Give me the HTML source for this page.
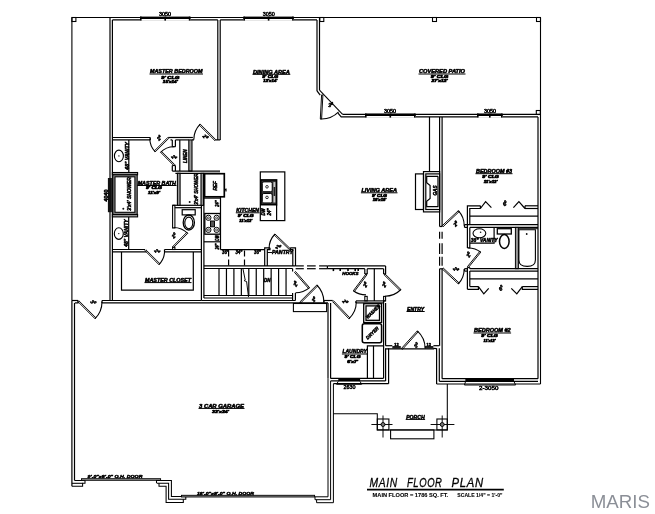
<!DOCTYPE html>
<html><head><meta charset="utf-8"><title>Main Floor Plan</title>
<style>
html,body{margin:0;padding:0;background:#fff;}
svg{display:block;font-family:"Liberation Sans","DejaVu Sans",sans-serif;}
</style></head><body>
<svg width="655" height="514" viewBox="0 0 655 514">
<rect x="0" y="0" width="655" height="514" fill="#fff" stroke="none"/>
<g fill="none" stroke="#000" stroke-width="1.2" transform="translate(0,0.5)">
<line x1="71.9" y1="17" x2="540.5" y2="17" stroke-width="1.1"/>
<line x1="71.9" y1="17" x2="71.9" y2="300" stroke-width="1.1"/>
<line x1="540.5" y1="17" x2="540.5" y2="383.5" stroke-width="1.1"/>
<rect x="71.9" y="17.0" width="4.0" height="4.0" stroke-width="1.08"/>
<rect x="319.8" y="17.0" width="4.0" height="4.0" stroke-width="1.08"/>
<rect x="432.5" y="17.0" width="4.0" height="4.0" stroke-width="1.08"/>
<rect x="536.5" y="17.0" width="4.0" height="4.0" stroke-width="1.08"/>
<rect x="536.3" y="110.0" width="4.0" height="4.0" stroke-width="1.08"/>
<line x1="110" y1="17" x2="110" y2="300"/>
<line x1="112.4" y1="19.4" x2="112.4" y2="300"/>
<line x1="112.4" y1="19.4" x2="217.8" y2="19.4"/>
<line x1="220.2" y1="19.4" x2="317" y2="19.4"/>
<line x1="217.8" y1="19.4" x2="217.8" y2="139.4"/>
<line x1="220.2" y1="19.4" x2="220.2" y2="139.4"/>
<line x1="215.4" y1="139.4" x2="220.2" y2="139.4"/>
<line x1="317" y1="19.4" x2="317" y2="90.4"/>
<line x1="319.5" y1="17" x2="319.5" y2="89.6"/>
<path d="M317.0 90.4 L320.2 94.6"/>
<path d="M319.5 89.6 L342.6 113.8" stroke-width="1.08"/>
<path d="M338.0 112.6 L341.2 116.4 L538.0 116.4"/>
<path d="M342.6 113.8 L540.5 113.8"/>
<path d="M321.6 94.4 L320.3 118.4 L321.6 118.4 L322.9 94.5 Z" stroke-width="0.96"/>
<path d="M320.3 118.4 A24.0 24.0 0 0 0 338.6 111.4" stroke-width="1.1"/>
<line x1="538" y1="116.4" x2="538" y2="378.2"/>
<line x1="439.6" y1="116.4" x2="439.6" y2="226"/>
<line x1="442.1" y1="116.4" x2="442.1" y2="226"/>
<line x1="439.6" y1="226" x2="442.1" y2="226"/>
<line x1="429.5" y1="116.4" x2="429.5" y2="171"/>
<rect x="140.0" y="18.4" width="50.4" height="1.9" stroke-width="0" fill="#fff"/>
<rect x="140.0" y="16.1" width="50.4" height="2.4" stroke-width="0" fill="#000"/>
<rect x="140.0" y="16.1" width="1.6" height="4.0" stroke-width="0" fill="#000"/>
<rect x="164.4" y="16.1" width="1.6" height="4.0" stroke-width="0" fill="#000"/>
<rect x="188.8" y="16.1" width="1.6" height="4.0" stroke-width="0" fill="#000"/>
<rect x="243.4" y="18.4" width="50.3" height="1.9" stroke-width="0" fill="#fff"/>
<rect x="243.4" y="16.1" width="50.3" height="2.4" stroke-width="0" fill="#000"/>
<rect x="243.4" y="16.1" width="1.6" height="4.0" stroke-width="0" fill="#000"/>
<rect x="267.8" y="16.1" width="1.6" height="4.0" stroke-width="0" fill="#000"/>
<rect x="292.1" y="16.1" width="1.6" height="4.0" stroke-width="0" fill="#000"/>
<rect x="365.0" y="115.4" width="50.6" height="1.9" stroke-width="0" fill="#fff"/>
<rect x="365.0" y="113.1" width="50.6" height="2.4" stroke-width="0" fill="#000"/>
<rect x="365.0" y="113.1" width="1.6" height="4.0" stroke-width="0" fill="#000"/>
<rect x="389.5" y="113.1" width="1.6" height="4.0" stroke-width="0" fill="#000"/>
<rect x="414.0" y="113.1" width="1.6" height="4.0" stroke-width="0" fill="#000"/>
<rect x="477.0" y="115.4" width="25.6" height="1.9" stroke-width="0" fill="#fff"/>
<rect x="477.0" y="113.1" width="25.6" height="2.4" stroke-width="0" fill="#000"/>
<rect x="477.0" y="113.1" width="1.6" height="4.0" stroke-width="0" fill="#000"/>
<rect x="489.0" y="113.1" width="1.6" height="4.0" stroke-width="0" fill="#000"/>
<rect x="501.0" y="113.1" width="1.6" height="4.0" stroke-width="0" fill="#000"/>
<line x1="112.4" y1="137" x2="150.3" y2="137"/>
<line x1="112.4" y1="139.4" x2="150.3" y2="139.4"/>
<line x1="150.3" y1="137" x2="150.3" y2="139.4"/>
<path d="M168.6 138.0 L155.3 151.3 L154.4 150.4 L167.7 137.1 Z" stroke-width="0.96"/>
<path d="M155.3 151.3 A18.8 18.8 0 0 1 149.8 138.0" stroke-width="1.1"/>
<path d="M168.2 137.0 L192.9 137.0"/>
<path d="M170.5 139.4 L172.3 139.4"/>
<path d="M175.4 139.4 L188.8 139.4"/>
<line x1="192" y1="139.4" x2="194" y2="139.4"/>
<path d="M215.8 139.2 L200.2 123.6 L199.3 124.6 L214.9 140.1 Z" stroke-width="0.96"/>
<path d="M200.2 123.6 A22.0 22.0 0 0 0 193.8 139.2" stroke-width="1.1"/>
<line x1="172.3" y1="139.4" x2="172.3" y2="146.2"/>
<line x1="175.4" y1="139.4" x2="175.4" y2="146.2"/>
<line x1="172.3" y1="146.2" x2="175.4" y2="146.2"/>
<path d="M173.8 165.0 L160.6 151.8 L161.5 150.9 L174.7 164.1 Z" stroke-width="0.96"/>
<path d="M160.6 151.8 A18.7 18.7 0 0 1 173.8 146.3" stroke-width="1.1"/>
<line x1="172.3" y1="165" x2="172.3" y2="170.6"/>
<line x1="175.4" y1="165" x2="175.4" y2="170.6"/>
<line x1="172.3" y1="165" x2="175.4" y2="165"/>
<line x1="179.8" y1="139.4" x2="179.8" y2="170.6"/>
<rect x="188.8" y="139.4" width="3.2" height="31.2" stroke-width="1.08" fill="#999"/>
<line x1="172.3" y1="170.6" x2="220" y2="170.6"/>
<line x1="175.4" y1="172.8" x2="220" y2="172.8"/>
<line x1="128.8" y1="139.4" x2="128.8" y2="172"/>
<ellipse cx="118.9" cy="155.4" rx="4.5" ry="5.8" stroke-width="1.1"/>
<circle cx="118.9" cy="155.4" r="0.7" fill="#111" stroke="none"/>
<rect x="112.4" y="172.0" width="25.2" height="2.3" stroke-width="1.08" fill="#999"/>
<rect x="112.8" y="174.3" width="24.4" height="39.7" stroke-width="1.08" fill="#8c8c8c"/>
<rect x="115.0" y="176.3" width="19.9" height="35.5" stroke-width="1.08" fill="#fff"/>
<rect x="112.4" y="214.0" width="25.2" height="2.4" stroke-width="1.08" fill="#999"/>
<circle cx="123.3" cy="208.3" r="1.0" fill="#111" stroke="none"/>
<rect x="107.9" y="177.5" width="4.0" height="34.2" stroke-width="0" fill="#111"/>
<line x1="128.7" y1="216.4" x2="128.7" y2="249"/>
<ellipse cx="118.8" cy="233.1" rx="4.5" ry="5.8" stroke-width="1.1"/>
<circle cx="118.8" cy="233.1" r="0.7" fill="#111" stroke="none"/>
<line x1="112.4" y1="249" x2="145" y2="249"/>
<line x1="112.4" y1="251.4" x2="146.5" y2="251.4"/>
<path d="M145.0 250.2 L158.9 264.1 L159.8 263.1 L145.9 249.3 Z" stroke-width="0.96"/>
<path d="M158.9 264.1 A19.6 19.6 0 0 0 164.6 250.2" stroke-width="1.1"/>
<line x1="164.5" y1="249" x2="201.4" y2="249"/>
<line x1="164.5" y1="251.4" x2="201.4" y2="251.4"/>
<line x1="164.5" y1="249" x2="164.5" y2="251.4"/>
<rect x="172.6" y="204.8" width="2.3" height="22.7" stroke-width="1.08"/>
<line x1="172.6" y1="204.8" x2="203.6" y2="204.8"/>
<line x1="174.9" y1="207.2" x2="201.4" y2="207.2"/>
<path d="M173.6 247.0 L187.7 232.9 L186.8 231.9 L172.7 246.1 Z" stroke-width="0.96"/>
<path d="M187.7 232.9 A20.0 20.0 0 0 0 173.6 227.0" stroke-width="1.1"/>
<rect x="172.6" y="246.7" width="2.3" height="2.3" stroke-width="1.08"/>
<rect x="182.2" y="209.2" width="13.0" height="5.2" stroke-width="1.2"/>
<ellipse cx="188.8" cy="222" rx="5.6" ry="7.5" stroke-width="1.3"/>
<ellipse cx="188.8" cy="222.4" rx="4.0" ry="5.8" stroke-width="1.1"/>
<rect x="177.4" y="172.8" width="2.7" height="32.0" stroke-width="1.08" fill="#999"/>
<rect x="201.0" y="172.8" width="2.6" height="32.0" stroke-width="1.08" fill="#999"/>
<circle cx="189.7" cy="201.4" r="1.0" fill="#111" stroke="none"/>
<line x1="201.4" y1="204.8" x2="201.4" y2="300"/>
<line x1="203.9" y1="172.8" x2="203.9" y2="297.5"/>
<line x1="137.2" y1="185.0" x2="176.5" y2="185.0" stroke-width="1.0"/>
<line x1="149.5" y1="73.5" x2="203.0" y2="73.5" stroke-width="1.0"/>
<line x1="252.5" y1="73.8" x2="290.3" y2="73.8" stroke-width="1.0"/>
<line x1="418.5" y1="73.5" x2="465.5" y2="73.5" stroke-width="1.0"/>
<path d="M121.5 251.4 L121.5 289.6 L193.3 289.6 L193.3 251.4"/>
<line x1="144.5" y1="282.1" x2="191.5" y2="282.1" stroke-width="1.0"/>
<line x1="71.9" y1="300" x2="78" y2="300"/>
<line x1="75" y1="302.4" x2="78.6" y2="302.4"/>
<line x1="78" y1="300" x2="78" y2="302.4"/>
<path d="M78.0 301.2 L95.0 318.2 L95.9 317.3 L78.9 300.3 Z" stroke-width="0.96"/>
<path d="M95.0 318.2 A24.0 24.0 0 0 0 102.0 301.2" stroke-width="1.1"/>
<line x1="102" y1="300" x2="201.4" y2="300"/>
<line x1="102" y1="302.4" x2="328" y2="302.4"/>
<line x1="102" y1="300" x2="102" y2="302.4"/>
<line x1="71.9" y1="300" x2="71.9" y2="485.7"/>
<line x1="74.5" y1="302.4" x2="74.5" y2="479.9"/>
<path d="M74.5 479.9 L85.0 479.9 L85.0 482.8 L82.6 482.8 L82.6 485.7 L71.9 485.7" stroke-width="1.05"/>
<line x1="71.9" y1="482.8" x2="82.6" y2="482.8" stroke-width="1.05"/>
<rect x="81.5" y="478.2" width="79.1" height="1.6" stroke-width="0.9" fill="#aaa"/>
<path d="M156.5 482.7 L156.5 480.0 L171.4 480.0 L171.4 495.9 L182.0 495.9" stroke-width="1.05"/>
<path d="M157.0 482.7 L168.6 482.7 L168.6 498.8 L185.8 498.8 L185.8 495.9" stroke-width="1.05"/>
<path d="M159.0 482.7 L159.0 485.8 L166.1 485.8 L166.1 501.9 L183.3 501.9 L183.3 498.8" stroke-width="1.05"/>
<rect x="181.5" y="494.8" width="133.1" height="1.7" stroke-width="0.9" fill="#999"/>
<line x1="198.5" y1="407.9" x2="244.5" y2="407.9" stroke-width="1.0"/>
<line x1="328" y1="302.4" x2="328" y2="378"/>
<line x1="330.6" y1="302.4" x2="330.6" y2="378"/>
<line x1="328" y1="378" x2="328" y2="496.3" stroke-width="1.0"/>
<line x1="330.6" y1="380.4" x2="330.6" y2="499.2" stroke-width="1.0"/>
<line x1="333.4" y1="383.2" x2="333.4" y2="502.2" stroke-width="1.0"/>
<path d="M328.0 496.3 L315.0 496.3" stroke-width="1.0"/>
<path d="M330.6 499.2 L315.0 499.2 L315.0 496.3" stroke-width="1.0"/>
<path d="M333.4 502.2 L316.6 502.2 L316.6 499.2" stroke-width="1.0"/>
<rect x="204.6" y="173.2" width="19.7" height="23.1" stroke-width="1.68"/>
<line x1="224.3" y1="189.2" x2="226" y2="189.2"/>
<line x1="226" y1="188" x2="226" y2="191"/>
<line x1="220.5" y1="196.3" x2="220.5" y2="249.2"/>
<line x1="220.5" y1="249.2" x2="264.8" y2="249.2"/>
<line x1="203.9" y1="197.6" x2="220.5" y2="197.6"/>
<rect x="204.8" y="213.0" width="15.5" height="20.7" stroke-width="1.32"/>
<circle cx="208.4" cy="217.3" r="2.6" stroke-width="1"/>
<circle cx="208.4" cy="217.3" r="1.0" stroke-width="0.7"/>
<circle cx="216.6" cy="217.3" r="2.6" stroke-width="1"/>
<circle cx="216.6" cy="217.3" r="1.0" stroke-width="0.7"/>
<circle cx="208.4" cy="229.4" r="2.6" stroke-width="1"/>
<circle cx="208.4" cy="229.4" r="1.0" stroke-width="0.7"/>
<circle cx="216.6" cy="229.4" r="2.6" stroke-width="1"/>
<circle cx="216.6" cy="229.4" r="1.0" stroke-width="0.7"/>
<rect x="210.5" y="220.5" width="4.0" height="5.8" stroke-width="0.96" fill="#555"/>
<line x1="203.9" y1="241.3" x2="220.5" y2="241.3"/>
<line x1="228.6" y1="250" x2="228.6" y2="265.2" stroke-dasharray="6 3"/>
<line x1="244.5" y1="250" x2="244.5" y2="265.2" stroke-dasharray="6 3"/>
<line x1="235.8" y1="212.3" x2="259.5" y2="212.3" stroke-width="1.0"/>
<rect x="260.3" y="171.4" width="24.5" height="48.7" stroke-width="1.2"/>
<rect x="260.8" y="179.4" width="15.8" height="24.8" stroke-width="1.56" fill="#333"/>
<rect x="273.4" y="181.6" width="2.0" height="20.4" stroke-width="0" fill="#ccc"/>
<rect x="273.6" y="186.5" width="1.6" height="9.0" stroke-width="0" fill="#222"/>
<rect x="262.3" y="181.4" width="9.9" height="9.8" stroke-width="0.96" fill="#fff" rx="1.5"/>
<rect x="262.3" y="193.0" width="9.9" height="9.4" stroke-width="0.96" fill="#fff" rx="1.5"/>
<circle cx="267" cy="186.3" r="1.3" stroke-width="0.8"/><circle cx="267" cy="196.9" r="1.3" stroke-width="0.8"/>
<line x1="276.6" y1="204.2" x2="276.6" y2="220.1"/>
<path d="M270.0 247.3 L264.7 247.3 L264.7 265.4"/>
<path d="M270.0 247.3 L270.0 249.2 L267.3 249.2 L267.3 265.4"/>
<path d="M290.3 247.3 L295.5 247.3 L295.5 265.4"/>
<path d="M290.3 247.3 L290.3 249.2 L292.8 249.2 L292.8 265.4"/>
<path d="M290.5 248.4 L275.0 233.5 L274.1 234.4 L289.6 249.3 Z" stroke-width="0.96"/>
<path d="M275.0 233.5 A21.5 21.5 0 0 0 269.0 248.4" stroke-width="1.1"/>
<line x1="267.3" y1="252" x2="272" y2="252" stroke-width="0.96"/>
<line x1="203.9" y1="265.4" x2="295.5" y2="265.4"/>
<line x1="203.9" y1="268" x2="292.6" y2="268"/>
<line x1="219.0" y1="268" x2="219.0" y2="295"/>
<line x1="226.45" y1="268" x2="226.45" y2="295"/>
<line x1="233.9" y1="268" x2="233.9" y2="295"/>
<line x1="241.35" y1="268" x2="241.35" y2="295"/>
<line x1="248.8" y1="268" x2="248.8" y2="295"/>
<line x1="256.25" y1="268" x2="256.25" y2="295"/>
<line x1="263.7" y1="268" x2="263.7" y2="295"/>
<line x1="271.15" y1="268" x2="271.15" y2="295"/>
<line x1="278.6" y1="268" x2="278.6" y2="295"/>
<line x1="286.05" y1="268" x2="286.05" y2="295"/>
<line x1="292.6" y1="268" x2="292.6" y2="271"/>
<line x1="292.6" y1="292.5" x2="292.6" y2="300"/>
<line x1="295.4" y1="292.5" x2="295.4" y2="300"/>
<line x1="203.9" y1="295" x2="292.6" y2="295"/>
<line x1="203.9" y1="297.5" x2="292.6" y2="297.5"/>
<line x1="201.4" y1="300" x2="295.4" y2="300"/>
<path d="M242.9 268.0 L245.2 279.5 L244.2 280.2 L246.6 281.0 L248.5 296.5" stroke-width="0.96"/>
<path d="M295.5 271.0 L309.5 287.1 L308.5 287.9 L294.5 271.9 Z" stroke-width="0.96"/>
<path d="M309.5 287.1 A21.3 21.3 0 0 1 295.5 292.3" stroke-width="1.1"/>
<line x1="295.6" y1="265.4" x2="303.8" y2="265.4"/>
<line x1="295.6" y1="268.2" x2="303.8" y2="268.2"/>
<line x1="307" y1="265.4" x2="315.7" y2="265.4"/>
<line x1="307" y1="268.2" x2="315.7" y2="268.2"/>
<line x1="319.1" y1="265.4" x2="327.4" y2="265.4"/>
<line x1="319.1" y1="268.2" x2="327.4" y2="268.2"/>
<line x1="327.4" y1="265.4" x2="385.6" y2="265.4"/>
<line x1="327.4" y1="268.2" x2="364.8" y2="268.2"/>
<line x1="367.2" y1="268.2" x2="383.6" y2="268.2"/>
<line x1="327.4" y1="265.4" x2="327.4" y2="268.2"/>
<line x1="385.6" y1="265.4" x2="385.6" y2="273.4"/>
<line x1="383.6" y1="268.2" x2="383.6" y2="273.4"/>
<line x1="383.6" y1="273.4" x2="385.6" y2="273.4"/>
<line x1="364.8" y1="268.2" x2="364.8" y2="273.4"/>
<line x1="367.2" y1="268.2" x2="367.2" y2="273.4"/>
<line x1="364.8" y1="273.4" x2="367.2" y2="273.4"/>
<line x1="374.3" y1="268.2" x2="374.3" y2="300.4"/>
<line x1="333.4" y1="268.2" x2="333.4" y2="270.6" stroke-width="1.56"/>
<line x1="340.2" y1="268.2" x2="340.2" y2="270.6" stroke-width="1.56"/>
<line x1="348" y1="268.2" x2="348" y2="270.6" stroke-width="1.56"/>
<line x1="355.2" y1="268.2" x2="355.2" y2="270.6" stroke-width="1.56"/>
<line x1="358.2" y1="268.2" x2="358.2" y2="270.6" stroke-width="1.56"/>
<path d="M366.0 273.4 L353.4 290.2 L354.4 291.0 L367.0 274.2 Z" stroke-width="0.96"/>
<path d="M353.4 290.2 A21.0 21.0 0 0 0 366.0 294.4" stroke-width="1.1"/>
<path d="M385.0 273.4 L400.9 289.0 L400.0 290.0 L384.1 274.3 Z" stroke-width="0.96"/>
<path d="M400.9 289.0 A22.3 22.3 0 0 1 385.0 295.7" stroke-width="1.1"/>
<rect x="364.8" y="295.9" width="2.4" height="4.5" stroke-width="1.08"/>
<rect x="383.6" y="295.9" width="2.0" height="4.5" stroke-width="1.08"/>
<path d="M299.7 301.6 L316.8 284.5 L317.7 285.4 L300.6 302.5 Z" stroke-width="0.96"/>
<path d="M316.8 284.5 A24.2 24.2 0 0 1 323.9 301.6" stroke-width="1.1"/>
<line x1="323.9" y1="300" x2="332.7" y2="300"/>
<line x1="323.9" y1="300" x2="323.9" y2="302.4"/>
<rect x="293.4" y="303.0" width="33.2" height="8.1" stroke-width="1.08"/>
<path d="M332.7 301.2 L348.9 318.3 L349.9 317.4 L333.6 300.3 Z" stroke-width="0.96"/>
<path d="M348.9 318.3 A23.6 23.6 0 0 0 356.3 301.2" stroke-width="1.1"/>
<line x1="355.9" y1="300.4" x2="385.6" y2="300.4"/>
<line x1="355.9" y1="302.4" x2="383.6" y2="302.4"/>
<line x1="355.9" y1="300.4" x2="355.9" y2="302.4"/>
<rect x="363.7" y="303.2" width="17.9" height="18.8" stroke-width="1.3"/>
<rect x="366.0" y="305.4" width="13.5" height="14.4" stroke-width="1.3"/>
<rect x="362.3" y="323.2" width="19.3" height="19.1" stroke-width="1.56" rx="2"/>
<path d="M367.4 377.8 L367.4 345.3 L383.6 345.3"/>
<line x1="373.5" y1="345.3" x2="373.5" y2="377.8"/>
<line x1="341.9" y1="353.5" x2="367.5" y2="353.5" stroke-width="1.0"/>
<line x1="383.6" y1="300.4" x2="383.6" y2="377.8"/>
<line x1="385.6" y1="302.4" x2="385.6" y2="345.2"/>
<line x1="385.6" y1="345.2" x2="392.3" y2="345.2"/>
<line x1="388.6" y1="347.8" x2="388.6" y2="383.2"/>
<line x1="385.6" y1="347.8" x2="385.6" y2="380.4"/>
<line x1="330.6" y1="377.8" x2="383.6" y2="377.8"/>
<line x1="330.6" y1="380.4" x2="385.6" y2="380.4"/>
<line x1="333.4" y1="383.2" x2="388.6" y2="383.2"/>
<rect x="338.3" y="378.4" width="21.8" height="2.2" stroke-width="0" fill="#000"/>
<path d="M338.3 380.8 L336.5 383.8 L361.6 383.8 L360.0 380.8" stroke-width="0.96"/>
<line x1="385.6" y1="348.4" x2="434" y2="348.4" stroke-width="1.32"/>
<rect x="392.3" y="345.5" width="8.5" height="2.9" stroke-width="0" fill="#222"/>
<rect x="424.9" y="345.5" width="8.5" height="2.9" stroke-width="0" fill="#222"/>
<path d="M401.4 348.0 L417.3 330.4 L418.2 331.3 L402.4 348.9 Z" stroke-width="0.96"/>
<path d="M417.3 330.4 A23.7 23.7 0 0 1 425.1 348.0" stroke-width="1.1"/>
<line x1="433.4" y1="345.2" x2="439.4" y2="345.2"/>
<line x1="433.4" y1="347.8" x2="436.6" y2="348.2"/>
<line x1="406.5" y1="311.0" x2="424.7" y2="311.0" stroke-width="1.0"/>
<rect x="423.5" y="171.1" width="16.1" height="40.3" stroke-width="1.2"/>
<rect x="425.8" y="173.4" width="13.8" height="35.6" stroke-width="1.2"/>
<rect x="415.5" y="173.4" width="8.0" height="35.6" stroke-width="1.2"/>
<path d="M438.0 175.8 L426.7 175.8 L426.7 182.2 L430.1 185.1 L430.1 198.0 L426.7 200.7 L426.7 206.1 L438.0 206.1 L438.0 175.8"/>
<line x1="360.9" y1="192.3" x2="397.5" y2="192.3" stroke-width="1.0"/>
<line x1="439.6" y1="231.3" x2="439.6" y2="238.3"/>
<line x1="442.1" y1="231.3" x2="442.1" y2="238.3"/>
<line x1="439.6" y1="242.7" x2="439.6" y2="253.6"/>
<line x1="442.1" y1="242.7" x2="442.1" y2="253.6"/>
<line x1="439.6" y1="256.3" x2="439.6" y2="265.3"/>
<line x1="442.1" y1="256.3" x2="442.1" y2="265.3"/>
<line x1="439.6" y1="268.3" x2="439.6" y2="345.2"/>
<line x1="442.1" y1="268.3" x2="442.1" y2="378.2"/>
<line x1="439.6" y1="268.3" x2="442.1" y2="268.3"/>
<line x1="436.6" y1="347.8" x2="436.6" y2="383.5"/>
<line x1="439.3" y1="347.8" x2="439.3" y2="380.8"/>
<line x1="442.1" y1="378.2" x2="538" y2="378.2"/>
<line x1="439.3" y1="380.8" x2="538" y2="380.8"/>
<line x1="436.6" y1="383.5" x2="540.5" y2="383.5"/>
<path d="M442.2 225.2 L458.3 210.2 L459.2 211.1 L443.1 226.2 Z" stroke-width="0.96"/>
<path d="M458.3 210.2 A22.0 22.0 0 0 1 464.2 225.2" stroke-width="1.1"/>
<path d="M442.2 268.4 L458.3 283.4 L459.2 282.5 L443.1 267.4 Z" stroke-width="0.96"/>
<path d="M458.3 283.4 A22.0 22.0 0 0 0 464.2 268.4" stroke-width="1.1"/>
<path d="M464.5 224.2 L538.0 224.2"/>
<path d="M464.5 226.9 L467.4 226.9"/>
<line x1="469.8" y1="226.9" x2="538" y2="226.9"/>
<line x1="464.5" y1="224.2" x2="464.5" y2="226.9"/>
<path d="M480.4 205.3 L467.4 205.3 L467.4 247.4"/>
<path d="M480.4 208.0 L469.8 208.0 L469.8 224.2"/>
<line x1="469.8" y1="226.9" x2="469.8" y2="247.4"/>
<line x1="467.4" y1="247.4" x2="469.8" y2="247.4"/>
<path d="M480.4 208.0 L485.6 201.2 L491.4 207.2"/>
<path d="M513.4 207.2 L518.9 201.2 L525.0 208.0"/>
<path d="M525.0 205.3 L538.0 205.3"/>
<path d="M525.0 208.0 L538.0 208.0"/>
<line x1="525" y1="205.3" x2="525" y2="208"/>
<line x1="480.4" y1="205.3" x2="480.4" y2="208"/>
<line x1="469.8" y1="215.6" x2="538" y2="215.6"/>
<path d="M469.8 242.6 L494.1 242.6 L494.1 226.9"/>
<ellipse cx="479.4" cy="232.8" rx="6.4" ry="4.5" stroke-width="1.1"/>
<circle cx="480.6" cy="231.8" r="0.8" fill="#111" stroke="none"/>
<rect x="497.3" y="228.2" width="14.0" height="5.3" stroke-width="1.3"/>
<ellipse cx="504.3" cy="241" rx="4.8" ry="7" stroke-width="1.5"/>
<rect x="515.4" y="226.9" width="3.0" height="41.3" stroke-width="0.96" fill="#999"/>
<path d="M518.9 229.3 H535.4 V259.5 Q535.4 265.9 527.2 265.9 Q518.9 265.9 518.9 259.5 Z" stroke-width="1.1"/>
<line x1="518.4" y1="228.2" x2="538" y2="228.2" stroke-width="0.96"/>
<circle cx="526.7" cy="233.5" r="0.9" fill="#111" stroke="none"/>
<path d="M468.4 267.0 L480.7 251.8 L479.7 251.0 L467.4 266.2 Z" stroke-width="0.96"/>
<path d="M480.7 251.8 A19.5 19.5 0 0 0 468.4 247.5" stroke-width="1.1"/>
<line x1="467.4" y1="267" x2="467.4" y2="288.8"/>
<line x1="469.8" y1="267" x2="469.8" y2="268.2"/>
<line x1="467.4" y1="267" x2="469.8" y2="267"/>
<line x1="464.5" y1="268.2" x2="467.4" y2="268.2"/>
<line x1="469.8" y1="268.2" x2="538" y2="268.2"/>
<line x1="464.5" y1="270.6" x2="467.4" y2="270.6"/>
<line x1="469.8" y1="270.6" x2="538" y2="270.6"/>
<line x1="464.5" y1="268.2" x2="464.5" y2="270.6"/>
<line x1="469.8" y1="270.6" x2="469.8" y2="286.1"/>
<line x1="469.8" y1="278.3" x2="538" y2="278.3"/>
<path d="M469.8 286.1 L478.4 286.1"/>
<path d="M467.4 288.8 L478.4 288.8 L478.4 286.1"/>
<path d="M478.4 286.1 L483.8 293.4 L488.7 287.9"/>
<path d="M511.3 287.9 L516.8 293.4 L522.3 286.1"/>
<path d="M522.3 286.1 L538.0 286.1"/>
<path d="M522.3 286.1 L522.3 288.8 L538.0 288.8"/>
<line x1="475.5" y1="173.2" x2="512.5" y2="173.2" stroke-width="1.0"/>
<line x1="473.5" y1="332.5" x2="511.1" y2="332.5" stroke-width="1.0"/>
<rect x="465.6" y="378.5" width="48.4" height="2.1" stroke-width="0" fill="#000"/>
<rect x="465.6" y="378.5" width="1.6" height="3.0" stroke-width="0" fill="#000"/>
<rect x="489.0" y="378.5" width="1.6" height="3.0" stroke-width="0" fill="#000"/>
<rect x="512.4" y="378.5" width="1.6" height="3.0" stroke-width="0" fill="#000"/>
<path d="M465.6 381.0 L464.4 384.5 L515.6 384.5 L514.0 381.0" stroke-width="0.96"/>
<path d="M333.4 413.2 L377.3 413.2 L377.3 429.4 L447.3 429.4 L447.3 383.5" stroke-width="1.05"/>
<rect x="377.3" y="418.5" width="11.6" height="10.9" stroke-width="1.08"/>
<rect x="436.9" y="418.5" width="10.4" height="10.9" stroke-width="1.08"/>
<line x1="383" y1="415" x2="383" y2="437" stroke-width="0.96"/>
<line x1="371.4" y1="424" x2="392.5" y2="424" stroke-width="0.96"/>
<circle cx="383" cy="424" r="2" stroke-width="0.9" fill="#777"/>
<line x1="442.2" y1="415" x2="442.2" y2="437" stroke-width="0.96"/>
<line x1="430.59999999999997" y1="424" x2="454.4" y2="424" stroke-width="0.96"/>
<circle cx="442.2" cy="424" r="2" stroke-width="0.9" fill="#777"/>
<rect x="390.6" y="429.4" width="43.3" height="8.9" stroke-width="1.08"/>
<line x1="405.7" y1="418.9" x2="425.1" y2="418.9" stroke-width="1.0"/>
<line x1="367" y1="489.2" x2="503.8" y2="489.2" stroke-width="1.68"/>
</g>
<g fill="#000" stroke="#000" stroke-width="0.5" stroke-linejoin="round" opacity="0.999" transform="translate(0,0.5)">
<text x="328.2" y="106.9" font-size="5.2" font-weight="bold" font-style="italic" stroke-width="0.5" transform="rotate(0 330.4 105)">3<tspan font-size="3.6" dy="-2">0</tspan></text>
<text x="165.0" y="15.49" font-size="5" text-anchor="middle" textLength="12.0" lengthAdjust="spacingAndGlyphs" stroke-width="0.45">3050</text>
<text x="268.8" y="15.49" font-size="5" text-anchor="middle" textLength="12.0" lengthAdjust="spacingAndGlyphs" stroke-width="0.45">3050</text>
<text x="390.0" y="112.39" font-size="5" text-anchor="middle" textLength="12.0" lengthAdjust="spacingAndGlyphs" stroke-width="0.45">3050</text>
<text x="490.0" y="112.59" font-size="5" text-anchor="middle" textLength="12.0" lengthAdjust="spacingAndGlyphs" stroke-width="0.45">3050</text>
<text x="184.8" y="157.52" font-size="4.8" text-anchor="middle" font-weight="bold" font-style="italic" textLength="13.4" lengthAdjust="spacingAndGlyphs" transform="rotate(-90 184.8 155.8)">LINEN</text>
<text x="126.8" y="157.19" font-size="5" text-anchor="middle" font-weight="bold" font-style="italic" textLength="27.5" lengthAdjust="spacingAndGlyphs" transform="rotate(-90 126.8 155.4)">48" VANITY</text>
<text x="128.9" y="195.36" font-size="5.2" text-anchor="middle" font-weight="bold" font-style="italic" textLength="33.6" lengthAdjust="spacingAndGlyphs" transform="rotate(-90 128.9 193.5)">3'x4' SHOWER</text>
<text x="106.4" y="196.79" font-size="5" text-anchor="middle" font-weight="bold" textLength="11.8" lengthAdjust="spacingAndGlyphs" transform="rotate(-90 106.4 195)">4040</text>
<text x="126.5" y="234.39" font-size="5" text-anchor="middle" font-weight="bold" font-style="italic" textLength="27.5" lengthAdjust="spacingAndGlyphs" transform="rotate(-90 126.5 232.6)">48" VANITY</text>
<text x="171.8" y="237.2" font-size="5.2" font-weight="bold" font-style="italic" stroke-width="0.5" transform="rotate(-45 174 235.3)">2<tspan font-size="3.6" dy="-2">0</tspan></text>
<text x="196.1" y="190.46" font-size="5.2" text-anchor="middle" font-weight="bold" font-style="italic" textLength="31.5" lengthAdjust="spacingAndGlyphs" transform="rotate(-90 196.1 188.6)">3'x4' SHOWER</text>
<text x="156.8" y="184.22" font-size="4.8" text-anchor="middle" font-weight="bold" font-style="italic" textLength="38.3" lengthAdjust="spacingAndGlyphs">MASTER BATH</text>
<text x="154.0" y="188.82" font-size="3.7" text-anchor="middle" font-weight="bold" font-style="italic" textLength="16.0" lengthAdjust="spacingAndGlyphs" stroke-width="0.7">9' CLG</text>
<text x="154.0" y="193.82" font-size="3.7" text-anchor="middle" font-weight="bold" font-style="italic" textLength="12.0" lengthAdjust="spacingAndGlyphs" stroke-width="0.7">11'x9'</text>
<text x="176.2" y="72.72" font-size="4.8" text-anchor="middle" font-weight="bold" font-style="italic" textLength="52.5" lengthAdjust="spacingAndGlyphs">MASTER BEDROOM</text>
<text x="170.3" y="78.32" font-size="3.7" text-anchor="middle" font-weight="bold" font-style="italic" textLength="18.0" lengthAdjust="spacingAndGlyphs" stroke-width="0.7">9' CLG</text>
<text x="170.3" y="82.32" font-size="3.7" text-anchor="middle" font-weight="bold" font-style="italic" textLength="14.9" lengthAdjust="spacingAndGlyphs" stroke-width="0.7">15'x14'</text>
<text x="271.4" y="73.02" font-size="4.8" text-anchor="middle" font-weight="bold" font-style="italic" textLength="36.8" lengthAdjust="spacingAndGlyphs">DINING AREA</text>
<text x="270.3" y="77.52" font-size="3.7" text-anchor="middle" font-weight="bold" font-style="italic" textLength="16.0" lengthAdjust="spacingAndGlyphs" stroke-width="0.7">9' CLG</text>
<text x="270.3" y="81.92" font-size="3.7" text-anchor="middle" font-weight="bold" font-style="italic" textLength="14.0" lengthAdjust="spacingAndGlyphs" stroke-width="0.7">12'x14'</text>
<text x="442.0" y="72.72" font-size="4.8" text-anchor="middle" font-weight="bold" font-style="italic" textLength="46.0" lengthAdjust="spacingAndGlyphs">COVERED PATIO</text>
<text x="439.6" y="77.22" font-size="3.7" text-anchor="middle" font-weight="bold" font-style="italic" textLength="17.5" lengthAdjust="spacingAndGlyphs" stroke-width="0.7">9' CLG</text>
<text x="439.6" y="81.82" font-size="3.7" text-anchor="middle" font-weight="bold" font-style="italic" textLength="16.0" lengthAdjust="spacingAndGlyphs" stroke-width="0.7">27'x12'</text>
<text x="168.0" y="281.32" font-size="4.8" text-anchor="middle" font-weight="bold" font-style="italic" textLength="46.0" lengthAdjust="spacingAndGlyphs">MASTER CLOSET</text>
<text x="154.8" y="252.5" font-size="5.2" font-weight="bold" font-style="italic" stroke-width="0.5" transform="rotate(45 157 250.6)">2<tspan font-size="3.6" dy="-2">4</tspan></text>
<text x="157.0" y="139.6" font-size="5.2" font-weight="bold" font-style="italic" stroke-width="0.5" transform="rotate(-45 159.2 137.7)">2<tspan font-size="3.6" dy="-2">4</tspan></text>
<text x="203.0" y="138.2" font-size="5.2" font-weight="bold" font-style="italic" stroke-width="0.5" transform="rotate(45 205.2 136.3)">2<tspan font-size="3.6" dy="-2">8</tspan></text>
<text x="171.6" y="158.5" font-size="5.2" font-weight="bold" font-style="italic" stroke-width="0.5" transform="rotate(45 173.8 156.6)">2<tspan font-size="3.6" dy="-2">4</tspan></text>
<text x="90.8" y="303.5" font-size="5.2" font-weight="bold" font-style="italic" stroke-width="0.5" transform="rotate(45 93 301.6)">3<tspan font-size="3.6" dy="-2">0</tspan></text>
<text x="115.0" y="477.58" font-size="4.4" text-anchor="middle" font-weight="bold" font-style="italic" textLength="55.0" lengthAdjust="spacingAndGlyphs">9'-0"x8'-0" O.H. DOOR</text>
<text x="225.5" y="494.18" font-size="4.4" text-anchor="middle" font-weight="bold" font-style="italic" textLength="57.0" lengthAdjust="spacingAndGlyphs">16'-0"x8'-0" O.H. DOOR</text>
<text x="221.5" y="407.12" font-size="4.8" text-anchor="middle" font-weight="bold" font-style="italic" textLength="45.0" lengthAdjust="spacingAndGlyphs">3 CAR GARAGE</text>
<text x="220.5" y="412.78" font-size="4.4" text-anchor="middle" font-weight="bold" font-style="italic" textLength="16.8" lengthAdjust="spacingAndGlyphs" stroke-width="0.7">32'x24'</text>
<text x="215.2" y="187.16" font-size="5.2" text-anchor="middle" font-weight="bold" font-style="italic" textLength="9.5" lengthAdjust="spacingAndGlyphs" transform="rotate(-90 215.2 185.3)">REF</text>
<text x="217.3" y="204.72" font-size="4.8" text-anchor="middle" font-weight="bold" font-style="italic" textLength="6.4" lengthAdjust="spacingAndGlyphs" transform="rotate(-90 217.3 203)">24"</text>
<text x="217.3" y="239.12" font-size="4.8" text-anchor="middle" font-weight="bold" font-style="italic" textLength="5.6" lengthAdjust="spacingAndGlyphs" transform="rotate(-90 217.3 237.4)">DW</text>
<text x="217.3" y="247.72" font-size="4.8" text-anchor="middle" font-weight="bold" font-style="italic" textLength="6.0" lengthAdjust="spacingAndGlyphs" transform="rotate(-90 217.3 246)">24"</text>
<text x="225.5" y="253.92" font-size="4.8" text-anchor="middle" font-weight="bold" font-style="italic" textLength="6.8" lengthAdjust="spacingAndGlyphs">36"</text>
<text x="239.0" y="253.92" font-size="4.8" text-anchor="middle" font-weight="bold" font-style="italic" textLength="6.8" lengthAdjust="spacingAndGlyphs">34"</text>
<text x="257.4" y="253.92" font-size="4.8" text-anchor="middle" font-weight="bold" font-style="italic" textLength="6.8" lengthAdjust="spacingAndGlyphs">36"</text>
<text x="247.7" y="211.52" font-size="4.8" text-anchor="middle" font-weight="bold" font-style="italic" textLength="22.7" lengthAdjust="spacingAndGlyphs">KITCHEN</text>
<text x="245.8" y="216.72" font-size="3.7" text-anchor="middle" font-weight="bold" font-style="italic" textLength="16.0" lengthAdjust="spacingAndGlyphs" stroke-width="0.7">9' CLG</text>
<text x="245.8" y="221.52" font-size="3.7" text-anchor="middle" font-weight="bold" font-style="italic" textLength="13.0" lengthAdjust="spacingAndGlyphs" stroke-width="0.7">11'x12'</text>
<text x="263.2" y="213.29" font-size="5" text-anchor="middle" font-weight="bold" font-style="italic" textLength="7.2" lengthAdjust="spacingAndGlyphs" transform="rotate(-90 263.2 211.5)">DW</text>
<text x="269.5" y="213.29" font-size="5" text-anchor="middle" font-weight="bold" font-style="italic" textLength="7.2" lengthAdjust="spacingAndGlyphs" transform="rotate(-90 269.5 211.5)">24"</text>
<text x="282.5" y="253.72" font-size="4.8" text-anchor="middle" font-weight="bold" font-style="italic" textLength="21.0" lengthAdjust="spacingAndGlyphs">PANTRY</text>
<text x="275.8" y="248.3" font-size="5.2" font-weight="bold" font-style="italic" stroke-width="0.5" transform="rotate(20 278 246.4)">2<tspan font-size="3.6" dy="-2">0</tspan></text>
<text x="267.2" y="281.22" font-size="4.8" text-anchor="middle" font-weight="bold" font-style="italic" textLength="6.4" lengthAdjust="spacingAndGlyphs">DN</text>
<text x="293.4" y="285.5" font-size="5.2" font-weight="bold" font-style="italic" stroke-width="0.5" transform="rotate(-60 295.6 283.6)">2<tspan font-size="3.6" dy="-2">8</tspan></text>
<text x="350.4" y="274.46" font-size="3.8" text-anchor="middle" font-weight="bold" font-style="italic" textLength="16.4" lengthAdjust="spacingAndGlyphs">HOOKS</text>
<text x="363.2" y="286.2" font-size="5.2" font-weight="bold" font-style="italic" stroke-width="0.5" transform="rotate(-60 365.4 284.3)">2<tspan font-size="3.6" dy="-2">0</tspan></text>
<text x="382.3" y="286.2" font-size="5.2" font-weight="bold" font-style="italic" stroke-width="0.5" transform="rotate(-60 384.5 284.3)">2<tspan font-size="3.6" dy="-2">0</tspan></text>
<text x="311.7" y="301.2" font-size="5.2" font-weight="bold" font-style="italic" stroke-width="0.5" transform="rotate(-45 313.9 299.3)">3<tspan font-size="3.6" dy="-2">0</tspan></text>
<text x="342.8" y="303.1" font-size="5.2" font-weight="bold" font-style="italic" stroke-width="0.5" transform="rotate(45 345 301.2)">2<tspan font-size="3.6" dy="-2">8</tspan></text>
<text x="373.0" y="312.72" font-size="4.8" text-anchor="middle" font-weight="bold" font-style="italic" textLength="18.0" lengthAdjust="spacingAndGlyphs" transform="rotate(-45 373 311)">WASHER</text>
<text x="372.3" y="334.22" font-size="4.8" text-anchor="middle" font-weight="bold" font-style="italic" textLength="16.0" lengthAdjust="spacingAndGlyphs" transform="rotate(-45 372.3 332.5)">DRYER</text>
<text x="354.7" y="352.72" font-size="4.8" text-anchor="middle" font-weight="bold" font-style="italic" textLength="24.6" lengthAdjust="spacingAndGlyphs">LAUNDRY</text>
<text x="352.6" y="357.72" font-size="3.7" text-anchor="middle" font-weight="bold" font-style="italic" textLength="16.0" lengthAdjust="spacingAndGlyphs" stroke-width="0.7">9' CLG</text>
<text x="352.6" y="362.92" font-size="3.7" text-anchor="middle" font-weight="bold" font-style="italic" textLength="10.5" lengthAdjust="spacingAndGlyphs" stroke-width="0.7">6'x7'</text>
<text x="349.4" y="388.69" font-size="5" text-anchor="middle" textLength="12.0" lengthAdjust="spacingAndGlyphs" stroke-width="0.45">2630</text>
<text x="396.5" y="345.20" font-size="4.2" text-anchor="middle" font-weight="bold" textLength="4.4" lengthAdjust="spacingAndGlyphs">12</text>
<text x="428.7" y="345.20" font-size="4.2" text-anchor="middle" font-weight="bold" textLength="4.4" lengthAdjust="spacingAndGlyphs">12</text>
<text x="414.1" y="346.9" font-size="5.2" font-weight="bold" font-style="italic" stroke-width="0.5" transform="rotate(-45 416.3 345)">3<tspan font-size="3.6" dy="-2">0</tspan></text>
<text x="415.6" y="310.22" font-size="4.8" text-anchor="middle" font-weight="bold" font-style="italic" textLength="17.2" lengthAdjust="spacingAndGlyphs">ENTRY</text>
<text x="435.0" y="191.72" font-size="4.8" text-anchor="middle" font-weight="bold" font-style="italic" textLength="10.0" lengthAdjust="spacingAndGlyphs" transform="rotate(-90 435 190)">GAS</text>
<text x="379.2" y="191.52" font-size="4.8" text-anchor="middle" font-weight="bold" font-style="italic" textLength="35.6" lengthAdjust="spacingAndGlyphs">LIVING AREA</text>
<text x="379.5" y="196.52" font-size="3.7" text-anchor="middle" font-weight="bold" font-style="italic" textLength="15.0" lengthAdjust="spacingAndGlyphs" stroke-width="0.7">9' CLG</text>
<text x="379.5" y="200.72" font-size="3.7" text-anchor="middle" font-weight="bold" font-style="italic" textLength="13.5" lengthAdjust="spacingAndGlyphs" stroke-width="0.7">18'x18'</text>
<text x="453.4" y="225.5" font-size="5.2" font-weight="bold" font-style="italic" stroke-width="0.5" transform="rotate(-45 455.6 223.6)">2<tspan font-size="3.6" dy="-2">8</tspan></text>
<text x="453.4" y="270.5" font-size="5.2" font-weight="bold" font-style="italic" stroke-width="0.5" transform="rotate(45 455.6 268.6)">2<tspan font-size="3.6" dy="-2">8</tspan></text>
<text x="502.8" y="205.1" font-size="5.2" font-weight="bold" font-style="italic" stroke-width="0.5" transform="rotate(-45 505 203.2)">6<tspan font-size="3.6" dy="-2">0</tspan></text>
<text x="484.2" y="241.92" font-size="4.8" text-anchor="middle" font-weight="bold" font-style="italic" textLength="26.8" lengthAdjust="spacingAndGlyphs">36" VANITY</text>
<text x="466.5" y="256.3" font-size="5.2" font-weight="bold" font-style="italic" stroke-width="0.5" transform="rotate(-60 468.7 254.4)">2<tspan font-size="3.6" dy="-2">0</tspan></text>
<text x="498.8" y="289.8" font-size="5.2" font-weight="bold" font-style="italic" stroke-width="0.5" transform="rotate(-45 501 287.9)">6<tspan font-size="3.6" dy="-2">0</tspan></text>
<text x="494.0" y="172.42" font-size="4.8" text-anchor="middle" font-weight="bold" font-style="italic" textLength="36.0" lengthAdjust="spacingAndGlyphs">BEDROOM #3</text>
<text x="490.6" y="177.32" font-size="3.7" text-anchor="middle" font-weight="bold" font-style="italic" textLength="16.5" lengthAdjust="spacingAndGlyphs" stroke-width="0.7">9' CLG</text>
<text x="490.6" y="182.42" font-size="3.7" text-anchor="middle" font-weight="bold" font-style="italic" textLength="13.8" lengthAdjust="spacingAndGlyphs" stroke-width="0.7">11'x12'</text>
<text x="492.3" y="331.72" font-size="4.8" text-anchor="middle" font-weight="bold" font-style="italic" textLength="36.6" lengthAdjust="spacingAndGlyphs">BEDROOM #2</text>
<text x="489.6" y="336.62" font-size="3.7" text-anchor="middle" font-weight="bold" font-style="italic" textLength="16.5" lengthAdjust="spacingAndGlyphs" stroke-width="0.7">9' CLG</text>
<text x="489.6" y="341.12" font-size="3.7" text-anchor="middle" font-weight="bold" font-style="italic" textLength="12.0" lengthAdjust="spacingAndGlyphs" stroke-width="0.7">11'x12'</text>
<text x="488.8" y="389.59" font-size="5" text-anchor="middle" textLength="19.5" lengthAdjust="spacingAndGlyphs" stroke-width="0.45">2-3050</text>
<text x="415.4" y="418.12" font-size="4.8" text-anchor="middle" font-weight="bold" font-style="italic" textLength="18.4" lengthAdjust="spacingAndGlyphs">PORCH</text>
<text x="369.6" y="486.4" font-size="11.9" font-style="italic" stroke-width="0.3" letter-spacing="0.7" textLength="28.2" lengthAdjust="spacingAndGlyphs">MAIN</text>
<text x="407" y="486.4" font-size="11.9" font-style="italic" stroke-width="0.3" letter-spacing="0.7" textLength="35.5" lengthAdjust="spacingAndGlyphs">FLOOR</text>
<text x="451.6" y="486.4" font-size="11.9" font-style="italic" stroke-width="0.3" letter-spacing="0.7" textLength="32.1" lengthAdjust="spacingAndGlyphs">PLAN</text>
<text x="372.6" y="496.5" font-size="5.1" font-weight="bold" stroke-width="0.1" textLength="75.6" lengthAdjust="spacingAndGlyphs">MAIN FLOOR = 1786 SQ. FT.</text>
<text x="457.3" y="496.5" font-size="5.1" font-weight="bold" stroke-width="0.1" textLength="45.1" lengthAdjust="spacingAndGlyphs">SCALE 1/4" = 1'-0"</text>
<text x="590.7" y="507.1" font-size="18.8" fill="#8b8f97" stroke="none" textLength="59.2" lengthAdjust="spacingAndGlyphs">MARIS</text>
</g>
</svg>
</body></html>
